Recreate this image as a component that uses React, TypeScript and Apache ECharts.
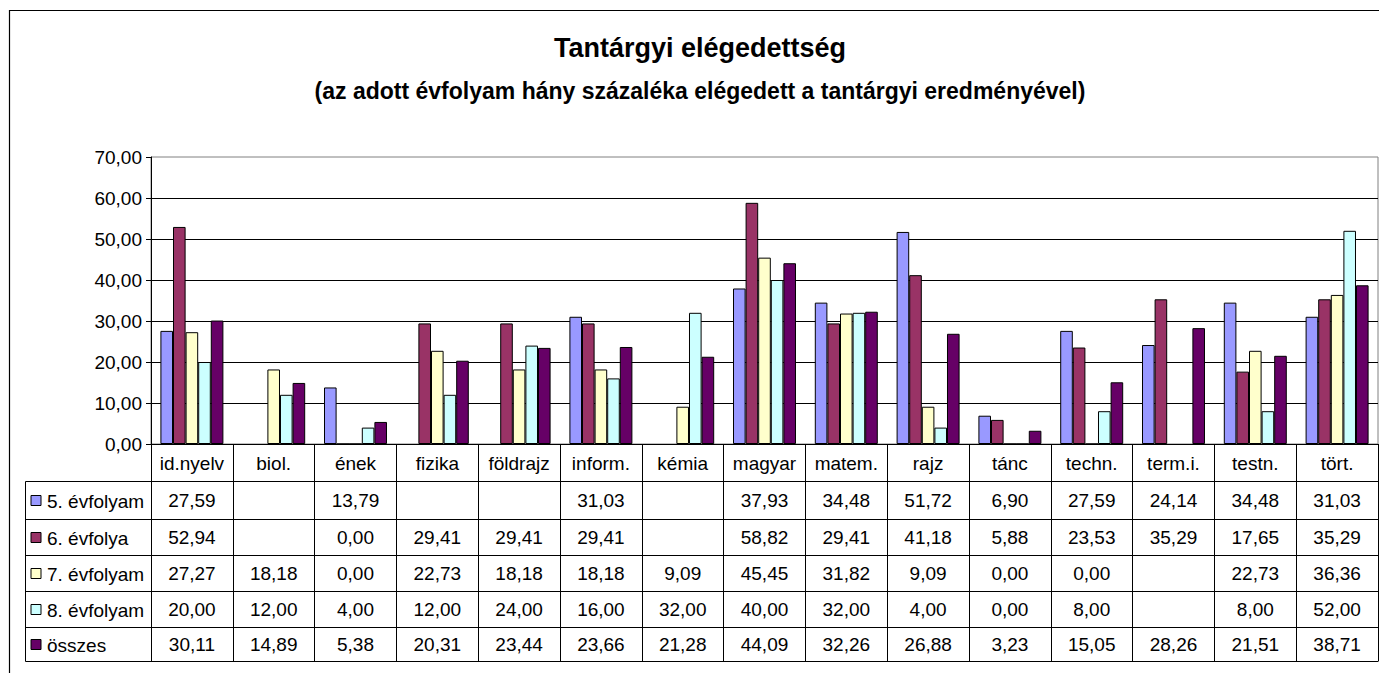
import React, { useEffect, useRef } from "react";
import * as echarts from "echarts";

const categories = ["id.nyelv", "biol.", "ének", "fizika", "földrajz", "inform.", "kémia", "magyar", "matem.", "rajz", "tánc", "techn.", "term.i.", "testn.", "tört."];
const seriesNames = ["5. évfolyam", "6. évfolya", "7. évfolyam", "8. évfolyam", "összes"];
const grade5 = [27.59, null, 13.79, null, null, 31.03, null, 37.93, 34.48, 51.72, 6.9, 27.59, 24.14, 34.48, 31.03];
const grade6 = [52.94, null, 0.0, 29.41, 29.41, 29.41, null, 58.82, 29.41, 41.18, 5.88, 23.53, 35.29, 17.65, 35.29];
const grade7 = [27.27, 18.18, 0.0, 22.73, 18.18, 18.18, 9.09, 45.45, 31.82, 9.09, 0.0, 0.0, null, 22.73, 36.36];
const grade8 = [20.0, 12.0, 4.0, 12.0, 24.0, 16.0, 32.0, 40.0, 32.0, 4.0, 0.0, 8.0, null, 8.0, 52.0];
const total = [30.11, 14.89, 5.38, 20.31, 23.44, 23.66, 21.28, 44.09, 32.26, 26.88, 3.23, 15.05, 28.26, 21.51, 38.71];
const yMin = 0;
const yMax = 70;
const yStep = 10;
const titleText = "Tantárgyi elégedettség";
const subtitleText = "(az adott évfolyam hány százaléka elégedett a tantárgyi eredményével)";

const colors = ["#9999FF", "#993366", "#FFFFCC", "#CCFFFF", "#660066"];
const FONT = "'Liberation Sans', Arial, sans-serif";

export default function App() {
  const ref = useRef<HTMLDivElement>(null);
  useEffect(() => {
    document.body.style.margin = "0";
    const chart = echarts.init(ref.current as HTMLDivElement, null, { renderer: "svg" });
    const rowsData = [grade5, grade6, grade7, grade8, total];
    const fmt = (v: number | null) => (v == null ? "" : v.toFixed(2).replace(".", ","));

    const gridLeft = 151;
    const gridTop = 157;
    const gridW = 1227;
    const gridH = 287;
    const axisY = gridTop + gridH; // 444
    const rowLines = [481.5, 519.5, 555.5, 591.5, 627.5, 661.5];
    const rowCenters = rowLines.slice(0, 5).map((y, i) => (y + rowLines[i + 1]) / 2);

    const xAxes: any[] = [
      {
        type: "category",
        data: categories,
        gridIndex: 0,
        position: "bottom",
        axisLine: { show: true, lineStyle: { color: "#000", width: 1 } },
        axisTick: { show: true, interval: 0, length: rowLines[5] - axisY, lineStyle: { color: "#000", width: 1 } },
        axisLabel: { interval: 0, margin: 19, verticalAlign: "middle", fontSize: 19, color: "#000", fontFamily: FONT },
        splitLine: { show: false },
      },
      ...rowsData.map((d, i) => ({
        type: "category",
        data: categories,
        gridIndex: 0,
        position: "bottom",
        offset: rowCenters[i] - axisY,
        axisLine: { show: false },
        axisTick: { show: false },
        axisLabel: {
          interval: 0,
          margin: 0,
          verticalAlign: "middle",
          fontSize: 19,
          color: "#000",
          fontFamily: FONT,
          formatter: (_v: string, idx: number) => fmt(d[idx]),
        },
        splitLine: { show: false },
      })),
    ];

    const graphic: any[] = [
      {
        type: "rect",
        silent: true,
        shape: { x: 9.5, y: 10.5, width: 1600, height: 900 },
        style: { fill: "none", stroke: "#000", lineWidth: 1.2 },
      },
      {
        type: "text",
        x: 700,
        y: 48,
        style: { text: titleText, font: `bold 27px ${FONT}`, fill: "#000", align: "center", verticalAlign: "middle" },
      },
      {
        type: "text",
        x: 700,
        y: 91,
        style: { text: subtitleText, font: `bold 23px ${FONT}`, fill: "#000", align: "center", verticalAlign: "middle" },
      },
      ...rowLines.map((y) => ({
        type: "line",
        silent: true,
        shape: { x1: 25.5, y1: y, x2: gridLeft + gridW, y2: y },
        style: { stroke: "#000", lineWidth: 1 },
      })),
      {
        type: "line",
        silent: true,
        shape: { x1: 25.5, y1: rowLines[0], x2: 25.5, y2: rowLines[5] },
        style: { stroke: "#000", lineWidth: 1 },
      },
      ...seriesNames.map((n, i) => ({
        type: "rect",
        silent: true,
        shape: { x: 31, y: Math.round(rowCenters[i]) - 5.5, width: 10, height: 10 },
        style: { fill: colors[i], stroke: "#000", lineWidth: 1 },
      })),
      ...seriesNames.map((n, i) => ({
        type: "text",
        x: 47,
        y: rowCenters[i] + 1,
        style: { text: n, font: `19px ${FONT}`, fill: "#000", align: "left", verticalAlign: "middle" },
      })),
    ];

    chart.setOption({
      animation: false,
      backgroundColor: "#fff",
      grid: {
        left: gridLeft,
        top: gridTop,
        width: gridW,
        height: gridH,
        show: true,
        borderColor: "#808080",
        borderWidth: 1,
        backgroundColor: "transparent",
        containLabel: false,
      },
      xAxis: xAxes,
      yAxis: {
        type: "value",
        min: yMin,
        max: yMax,
        interval: yStep,
        axisLine: { show: true, lineStyle: { color: "#000", width: 1 } },
        axisTick: { show: true, length: 5, lineStyle: { color: "#000" } },
        axisLabel: {
          margin: 9,
          fontSize: 19,
          color: "#000",
          fontFamily: FONT,
          formatter: (v: number) => v.toFixed(2).replace(".", ","),
        },
        splitLine: { show: true, showMaxLine: false, lineStyle: { color: "#000", width: 1 } },
      },
      series: seriesNames.map((n, i) => ({
        type: "bar",
        name: n,
        data: rowsData[i],
        xAxisIndex: 0,
        yAxisIndex: 0,
        barGap: "0%",
        barCategoryGap: "23%",
        itemStyle: { color: colors[i], borderColor: "#000", borderWidth: 1 },
      })),
      graphic,
    });
    return () => chart.dispose();
  }, []);
  return <div ref={ref} style={{ width: 1379, height: 673 }} />;
}
